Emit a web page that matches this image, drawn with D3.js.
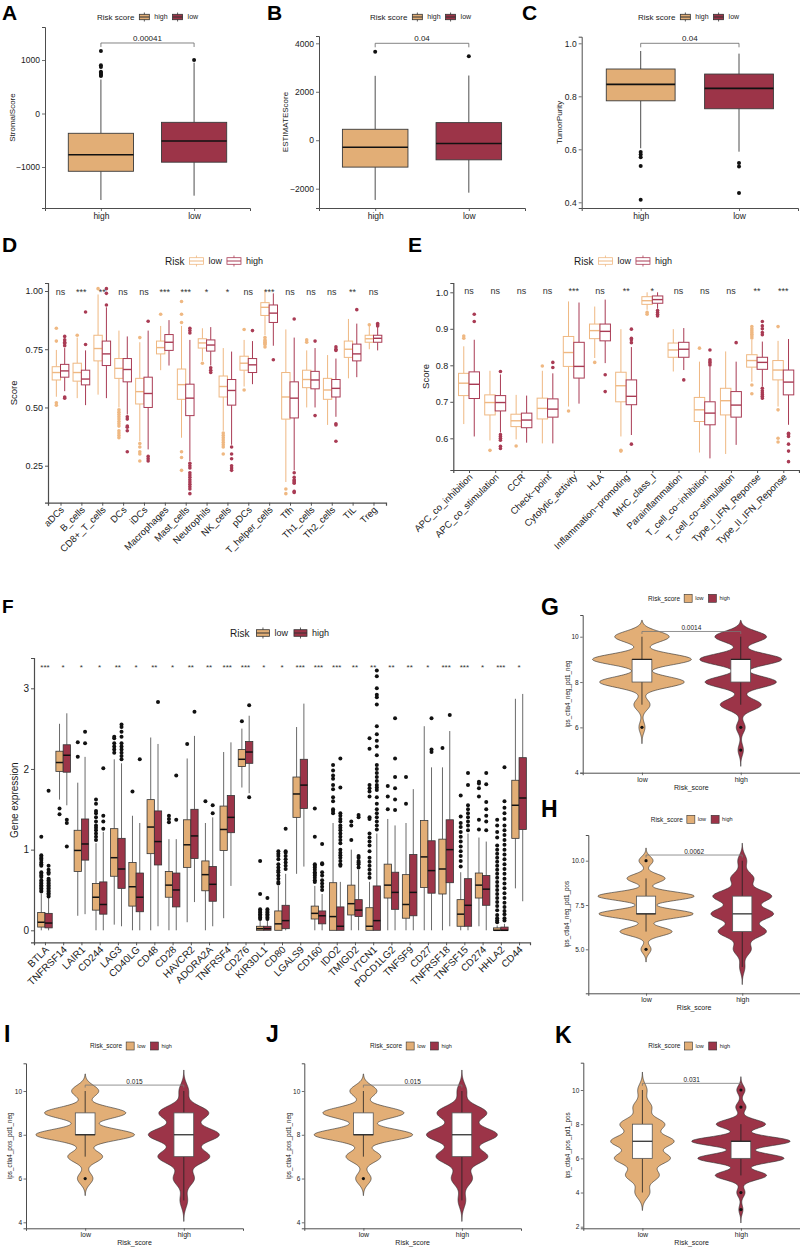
<!DOCTYPE html>
<html><head><meta charset="utf-8">
<script src="https://cdn.jsdelivr.net/npm/d3@7"></script>
<style>body{margin:0;background:#fff}svg{display:block}</style>
</head><body>
<script>
// ================= DATA =================
// Panels A-C
const abcGroups = ["high","low"];
const stromalStats = [[-1617,-1080,-770,-370,635],[-1536,-910,-515,-165,950]]; // [lo,q1,med,q3,hi]
const stromalOut = [[1170,900,870,780,760,740,720,700],[1000]];
const estimateStats = [[-2464,-1109,-287,452,2657],[-2164,-809,-136,727,2670]];
const estimateOut = [[3655],[3463]];
const purityStats = [[0.604,0.783,0.845,0.903,0.971],[0.591,0.753,0.830,0.884,0.961]];
const purityOut = [[0.59,0.58,0.57,0.537,0.41],[0.548,0.535,0.435]];
const stromalTicks = [-1000,0,1000], estimateTicks = [-2000,0,2000,4000], purityTicks = [0.4,0.6,0.8,1.0];
const abcPvalues = ["0.00041","0.04","0.04"];
const abcBracket = [1318,4000,1.0];

// Panel D
const riskGroups = ["low","high"];
const immuneCells = ["aDCs","B_cells","CD8+_T_cells","DCs","iDCs","Macrophages","Mast_cells","Neutrophils","NK_cells","pDCs","T_helper_cells","Tfh","Th1_cells","Th2_cells","TIL","Treg"];
const immuneLowStats = [[0.546,0.618,0.650,0.675,0.747],[0.54,0.613,0.65,0.69,0.80],[0.555,0.70,0.753,0.81,0.985],[0.50,0.625,0.668,0.71,0.83],[0.355,0.515,0.568,0.625,0.78],[0.66,0.73,0.757,0.785,0.85],[0.37,0.535,0.598,0.665,0.85],[0.70,0.755,0.777,0.795,0.84],[0.40,0.545,0.59,0.635,0.755],[0.59,0.66,0.69,0.72,0.79],[0.81,0.895,0.93,0.95,1.0],[0.18,0.45,0.545,0.65,0.835],[0.50,0.585,0.62,0.66,0.745],[0.425,0.535,0.575,0.625,0.725],[0.625,0.715,0.75,0.785,0.88],[0.75,0.78,0.795,0.81,0.85]];
const immuneHighStats = [[0.57,0.63,0.657,0.685,0.755],[0.51,0.597,0.622,0.66,0.745],[0.54,0.68,0.73,0.785,0.93],[0.47,0.61,0.663,0.71,0.805],[0.32,0.50,0.56,0.63,0.83],[0.68,0.745,0.78,0.813,0.875],[0.27,0.465,0.54,0.60,0.79],[0.68,0.742,0.768,0.79,0.845],[0.34,0.51,0.573,0.62,0.74],[0.60,0.65,0.683,0.71,0.785],[0.765,0.865,0.905,0.94,0.99],[0.23,0.455,0.54,0.61,0.80],[0.50,0.58,0.618,0.655,0.755],[0.46,0.545,0.582,0.62,0.71],[0.63,0.70,0.73,0.772,0.86],[0.745,0.78,0.797,0.81,0.845]];
const immuneLowOut = [[0.84,0.785,0.52,0.51],[0.81],[1.01],[0.49,0.48,0.47,0.46,0.45,0.44,0.43,0.42,0.40,0.39,0.38,0.37],[0.80,0.345,0.33,0.31,0.30,0.27],[0.90],[0.955,0.90,0.865,0.31,0.285,0.23],[0.69],[0.39,0.38,0.37,0.36,0.35,0.34,0.33,0.30],[0.835,0.575],[0.80,0.79,0.785,0.78,0.775,0.77,0.76],[0.15,0.13],[0.79,0.78],[],[],[0.855]];
const immuneHighOut = [[0.805,0.79,0.78,0.775,0.765,0.545,0.54],[0.91,0.77],[0.94,0.99,1.01],[0.46,0.45,0.42,0.415,0.40,0.31],[0.87,0.29,0.28,0.27],[],[0.84,0.83,0.82,0.26,0.25,0.24,0.22,0.21,0.20,0.19,0.18,0.17,0.16,0.15,0.13],[0.67,0.66,0.65],[0.33,0.30,0.28,0.25,0.24,0.23],[0.83],[0.705],[0.88,0.22,0.20,0.19,0.185,0.18,0.175,0.14,0.135],[0.785,0.465],[0.76,0.75,0.745,0.43,0.425,0.355],[0.92],[0.86,0.855,0.85]];
const immuneSig = ["ns","***","**","ns","ns","***","***","*","*","ns","***","ns","ns","ns","**","ns"];
const immuneTicks = [0.25,0.5,0.75,1.0];

// Panel E
const immuneFunctions = ["APC_co_inhibition","APC_co_stimulation","CCR","Check\u2212point","Cytolytic_activity","HLA","Inflammation\u2212promoting","MHC_class_I","Parainflammation","T_cell_co\u2212inhibition","T_cell_co\u2212stimulation","Type_I_IFN_Reponse","Type_II_IFN_Reponse"];
const funcLowStats = [[0.639,0.717,0.751,0.778,0.852],[0.594,0.664,0.698,0.719,0.785],[0.597,0.632,0.648,0.666,0.719],[0.586,0.653,0.682,0.71,0.785],[0.687,0.797,0.835,0.879,0.975],[0.82,0.873,0.895,0.913,0.961],[0.605,0.70,0.744,0.781,0.899],[0.952,0.967,0.977,0.988,1.0],[0.783,0.822,0.842,0.861,0.899],[0.561,0.646,0.678,0.712,0.81],[0.557,0.664,0.703,0.737,0.838],[0.755,0.795,0.813,0.829,0.87],[0.687,0.76,0.787,0.813,0.867]];
const funcHighStats = [[0.605,0.709,0.748,0.782,0.87],[0.616,0.675,0.698,0.717,0.775],[0.588,0.629,0.65,0.669,0.717],[0.586,0.658,0.68,0.708,0.778],[0.695,0.765,0.797,0.863,0.972],[0.806,0.867,0.893,0.913,0.98],[0.609,0.692,0.715,0.76,0.85],[0.955,0.97,0.98,0.99,1.0],[0.787,0.822,0.844,0.863,0.902],[0.545,0.637,0.669,0.70,0.797],[0.582,0.658,0.691,0.728,0.81],[0.742,0.789,0.808,0.822,0.865],[0.637,0.719,0.754,0.787,0.872]];
const funcLowOut = [[0.88,0.874],[0.567],[0.579],[0.798],[0.675],[0.808],[0.567,0.565],[0.945,0.94],[],[0.847],[],[0.906,0.90,0.895,0.89,0.885,0.88,0.875,0.746,0.722],[0.906,0.678,0.60,0.59]];
const funcHighOut = [[0.94,0.92],[0.783,0.61,0.605,0.60,0.595,0.578,0.572],[],[0.808,0.794],[],[0.774,0.728],[0.899,0.874,0.87,0.862,0.584],[0.95,0.945,0.94,0.935],[0.76],[0.842,0.815,0.81,0.806,0.801],[0.862],[0.92,0.908,0.9,0.89,0.884,0.737,0.73,0.725,0.72,0.715,0.71],[0.614,0.61,0.605,0.584,0.565,0.536]];
const funcSig = ["ns","ns","ns","ns","***","ns","**","*","ns","ns","ns","**","***"];
const funcTicks = [0.6,0.7,0.8,0.9,1.0];

// Panel F
const checkpointGenes = ["BTLA","TNFRSF14","LAIR1","CD244","LAG3","CD40LG","CD48","CD28","HAVCR2","ADORA2A","TNFRSF4","CD276","KIR3DL1","CD80","LGALS9","CD160","IDO2","TMIGD2","VTCN1","PDCD1LG2","TNFSF9","CD27","TNFRSF18","TNFSF15","CD274","HHLA2","CD44"];
const geneLowStats = [[0,0.04,0.10,0.22,0.45],[1.62,1.97,2.08,2.22,2.56],[0.18,0.73,0.99,1.24,1.83],[0,0.25,0.41,0.58,1.08],[0.07,0.67,0.90,1.26,2.12],[0,0.30,0.54,0.84,1.42],[0,0.95,1.28,1.62,2.39],[0,0.41,0.56,0.73,1.13],[0.10,0.78,1.06,1.37,2.13],[0,0.49,0.69,0.86,1.33],[0.15,0.99,1.25,1.54,2.21],[1.77,2.03,2.12,2.24,2.50],[0,0,0.02,0.05,0.12],[0,0,0.08,0.24,0.55],[0.70,1.40,1.69,1.90,2.52],[0,0.14,0.21,0.30,0.55],[0,0,0.17,0.59,1.33],[0,0.19,0.33,0.56,1.0],[0,0,0.05,0.28,0.6],[0,0.40,0.56,0.82,1.38],[0,0.15,0.32,0.69,1.33],[0,0.53,0.91,1.36,2.53],[0,0.45,0.76,1.13,2.02],[0,0.05,0.20,0.38,0.72],[0.05,0.40,0.56,0.71,1.15],[0,0,0,0.03,0.06],[0.52,1.14,1.55,1.86,2.87]];
const geneHighStats = [[0,0.03,0.09,0.21,0.40],[1.55,1.96,2.17,2.30,2.69],[0.20,0.87,1.07,1.38,2.15],[0,0.20,0.32,0.60,1.22],[0.05,0.52,0.76,1.14,2.07],[0,0.23,0.41,0.71,1.33],[0.05,0.81,1.10,1.48,2.31],[0,0.29,0.50,0.71,1.13],[0.35,0.89,1.17,1.50,2.41],[0.05,0.36,0.57,0.79,1.40],[0.55,1.21,1.40,1.67,2.33],[1.70,2.07,2.21,2.34,2.66],[0,0,0.02,0.05,0.12],[0,0.02,0.12,0.31,0.70],[0.79,1.51,1.80,2.12,2.81],[0,0.08,0.18,0.24,0.45],[0,0,0.05,0.29,0.60],[0,0.17,0.25,0.38,0.75],[0,0,0.12,0.55,1.2],[0,0.26,0.47,0.72,1.30],[0,0.18,0.47,0.94,1.75],[0,0.46,0.74,1.11,2.02],[0.05,0.59,1.0,1.37,2.47],[0,0.05,0.31,0.64,1.2],[0,0.31,0.51,0.68,1.1],[0,0,0,0.04,0.08],[0.36,1.25,1.64,2.14,2.93]];
const geneLowOut = [[1.16,0.93,0.91,0.89,0.87,0.84,0.82,0.80,0.72,0.70,0.68,0.66,0.62,0.60,0.58,0.56,0.54,0.52,0.50,0.48],[1.51,1.44],[2.33,2.15],[1.62,1.57,1.48,1.45,1.40,1.35,1.30,1.27,1.24,1.20,1.16,1.12],[2.40,2.38,2.32,2.28,2.24,2.20],[1.72],[],[1.42,1.38,1.34],[2.31],[1.60],[],[2.59],[0.86,0.45,0.26,0.24,0.22,0.20,0.18,0.16,0.14],[0.98,0.95,0.92,0.88,0.82,0.78,0.74,0.72,0.68,0.64,0.60,0.58],[],[1.51,1.16,0.82,0.80,0.78,0.75,0.72,0.70,0.68,0.65,0.62,0.60],[2.05,1.98,1.92,1.88,1.80,1.75,1.65,1.60,1.50,1.48,1.45],[1.35,1.30,1.12],[2.38,2.25,1.80,1.76,1.72,1.66,1.40,1.38,1.20,1.15,1.10,1.05,0.98,0.90,0.85,0.80,0.75,0.70,0.65],[1.79,1.66,1.50],[1.90,1.57],[],[2.26],[1.67,1.41,1.33,1.28,1.22,1.16,1.10,1.04,0.98,0.92,0.86,0.79],[1.84,1.82,1.76,1.66,1.37,1.25],[1.37,1.30,1.22,1.15,1.05,1.0,0.95,0.90,0.85,0.80,0.75,0.70,0.65,0.60,0.55,0.50,0.45,0.40,0.35,0.30,0.25,0.19,0.15,0.12,0.10],[]];
const geneHighOut = [[1.73,0.80,0.75,0.72,0.70,0.64,0.62,0.60,0.58,0.56,0.54,0.52,0.50,0.48,0.46,0.44,0.42],[1.37,1.33,1.04],[2.46,2.32],[2.01,1.42,1.35,1.26],[2.55,2.52,2.46,2.40,2.32,2.28,2.24,2.20,2.16,2.12],[2.12],[2.83],[1.92,1.37],[2.71],[1.55,1.45],[],[2.79,1.65],[0.40,0.26,0.24,0.22,0.20,0.18,0.16,0.14],[1.26,0.98,0.96,0.92,0.88,0.84,0.80,0.76],[],[1.07,0.83,0.82,0.72,0.68,0.62,0.58,0.54,0.50],[2.13,1.77,1.45,1.42,1.38,1.35,1.30,1.27,1.24,1.20,1.16,1.12,1.08,1.0,0.96,0.93,0.90,0.86,0.82,0.80],[1.43,1.40,0.92,0.90,0.86,0.84,0.82,0.78],[3.22,3.15,3.0,2.92,2.89,2.80,2.53,2.43,2.35,2.28,2.17,2.05,2.0,1.95,1.90,1.85,1.80,1.77,1.74,1.65,1.57,1.50,1.45,1.40,1.35,1.30,1.25],[2.63,2.13,1.90,1.76,1.62,1.49],[],[2.63,2.24,2.21],[2.67],[1.95,1.80,1.55,1.50,1.45,1.40,1.35,1.30,1.24],[1.95,1.81,1.59,1.50,1.42,1.35,1.24],[2.02,1.60,1.52,1.45,1.38,1.30,1.24,1.18,1.12,1.06,1.0,0.94,0.88,0.82,0.76,0.70,0.64,0.58,0.52,0.46,0.40,0.34,0.29,0.24,0.20,0.15,0.12],[]];
const geneSig = ["***","*","*","*","**","*","**","*","**","**","***","***","*","*","***","***","***","**","**","**","**","*","***","***","*","***","*"];
const geneTicks = [0,1,2,3];

// Panels G-K (IPS scores): counts per integer score
const ipsGroups = ["low","high"];
const ipsScores = [3,4,5,6,7,8,9,10];
const gLowCounts  = [0,0,0,3,8,42,49,27],  gHighCounts = [0,0,3,5,23,40,46,29];
const hLowCounts  = [0,0,5,26,47,48,19,7], hHighCounts = [0,3,10,27,35,33,13,5];
const iLowCounts  = [0,0,0,8,18,51,42,14], iHighCounts = [0,0,4,11,27,37,26,5];
const jLowCounts  = [0,0,0,8,18,51,42,14], jHighCounts = [0,0,4,11,27,37,26,5];
const kLowCounts  = [0,8,18,30,34,24,10,5], kHighCounts = [2,4,25,42,48,24,5,4];
const gBoxStats = [[7,8,9,9,10],[7,8,9,9,10]], gOut = [[6],[6,5]];
const hBoxStats = [[6,7,7,8,9],[4,6,7,8,10]], hOut = [[5,10],[]];
const iBoxStats = [[7,8,8,9,10],[5,7,8,9,10]], iOut = [[6],[]];
const jBoxStats = [[7,8,8,9,10],[5,7,8,9,10]], jOut = [[6],[]];
const kBoxStats = [[4,6,7,8,10],[5,6,7,7,8]], kOut = [[],[3,4,9,10]];
const ipsPvalues = {G:"0.0014",H:"0.0062",I:"0.015",J:"0.015",K:"0.031"};

// ================= STYLE =================
const FONT = '"Liberation Sans", Arial, Helvetica, sans-serif';
const OR = "#E2AE76", RD = "#9C3448";
const D_OR = "#EFB882", D_RD = "#A93B54";
const AX = "#4d4d4d", TX = "#1a1a1a";

const svg = d3.select("body").append("svg").attr("width",800).attr("height",1248).style("font-family",FONT);
svg.append("rect").attr("width",800).attr("height",1248).attr("fill","#fff");

// ================= HELPERS =================
function xScale(cats,x0,x1){ return d3.scalePoint().domain(cats).range([x0,x1]).padding(0.6); }
function yScale(v1,p1,v2,p2,top,bot){
  const s = d3.scaleLinear().domain([v1,v2]).range([p1,p2]);
  return d3.scaleLinear().domain([s.invert(bot), s.invert(top)]).range([bot, top]);
}
function axes(g,x,y,ticks,fmt,o){
  const ya = g.append("g").attr("transform",`translate(${x.range()[0]},0)`)
    .call(d3.axisLeft(y).tickValues(ticks).tickFormat(fmt).tickSizeOuter(0).tickSize(o.ts).tickPadding(o.tp));
  const xa = g.append("g").attr("transform",`translate(0,${y.range()[0]})`)
    .call(d3.axisBottom(x).tickSizeOuter(0).tickSize(o.ts).tickPadding(o.tp));
  [ya,xa].forEach(a=>{
    a.select(".domain").attr("stroke",AX).attr("stroke-width",o.lw);
    a.selectAll(".tick line").attr("stroke",AX).attr("stroke-width",o.lw*0.8);
    a.selectAll(".tick text").attr("fill",TX).style("font-size",o.fs+"px").style("font-family",FONT);
  });
  if(o.rot){
    xa.selectAll(".tick text").attr("x",0).attr("y",0).attr("dy","0.7em")
      .attr("transform",`translate(${o.rot[0]},${o.rot[1]}) rotate(-45)`).style("text-anchor","end")
      .style("font-size",o.xfs+"px");
  } else if(o.xfs){ xa.selectAll(".tick text").style("font-size",o.xfs+"px"); }
  return {ya,xa};
}
function yTitle(g,txt,x,yc,fs){
  g.append("text").attr("transform",`translate(${x},${yc}) rotate(-90)`).attr("text-anchor","middle")
   .attr("dy","0.35em").style("font-size",fs+"px").attr("fill",TX).text(txt);
}
function panelLabel(txt,x,y,fs){
  svg.append("text").attr("x",x).attr("y",y).style("font-size",fs+"px").style("font-weight","bold").attr("fill","#000").text(txt);
}
function drawBox(g,cx,w,st,y,s){
  g.append("line").attr("x1",cx).attr("x2",cx).attr("y1",y(st[0])).attr("y2",y(st[1])).attr("stroke",s.whisk).attr("stroke-width",s.sw);
  g.append("line").attr("x1",cx).attr("x2",cx).attr("y1",y(st[3])).attr("y2",y(st[4])).attr("stroke",s.whisk).attr("stroke-width",s.sw);
  g.append("rect").attr("x",cx-w/2).attr("y",y(st[3])).attr("width",w).attr("height",Math.max(0.6,y(st[1])-y(st[3])))
   .attr("fill",s.fill).attr("stroke",s.stroke).attr("stroke-width",s.sw);
  g.append("line").attr("x1",cx-w/2).attr("x2",cx+w/2).attr("y1",y(st[2])).attr("y2",y(st[2])).attr("stroke",s.med).attr("stroke-width",s.medW);
}
function drawDots(g,cx,vals,y,r,color){
  g.selectAll(null).data(vals).enter().append("circle").attr("cx",cx).attr("cy",d=>y(d)).attr("r",r).attr("fill",color);
}
function legend(g,x,yc,title,items,o){
  let cx = x;
  const t = g.append("text").attr("x",cx).attr("y",yc).attr("dy","0.35em").style("font-size",o.tfs+"px").attr("fill",TX).text(title);
  cx += t.node().getComputedTextLength() + o.g1;
  items.forEach(it=>{
    const kx = cx, kw=o.kw, kh=o.kh;
    if(o.type==="square"){
      g.append("rect").attr("x",kx).attr("y",yc-kh/2).attr("width",kw).attr("height",kh).attr("fill",it.color).attr("stroke","#333").attr("stroke-width",0.6);
    } else {
      const fill = o.type==="hollow" ? "#fff" : it.color;
      const st = o.type==="hollow" ? it.color : "#333";
      g.append("line").attr("x1",kx+kw/2).attr("x2",kx+kw/2).attr("y1",yc-kh/2).attr("y2",yc+kh/2).attr("stroke",st).attr("stroke-width",0.8);
      g.append("rect").attr("x",kx).attr("y",yc-kh*0.3).attr("width",kw).attr("height",kh*0.6).attr("fill",fill).attr("stroke",st).attr("stroke-width",0.8);
      g.append("line").attr("x1",kx).attr("x2",kx+kw).attr("y1",yc).attr("y2",yc).attr("stroke",st).attr("stroke-width",1);
    }
    cx += kw + o.g2;
    const l = g.append("text").attr("x",cx).attr("y",yc).attr("dy","0.35em").style("font-size",o.fs+"px").attr("fill",TX).text(it.label);
    cx += l.node().getComputedTextLength() + o.g3;
  });
}

// ================= PANELS A-C =================
const abcPanels = [
  {lab:"A",lx:2,stats:stromalStats,out:stromalOut,ticks:stromalTicks,fmt:d3.format("d"),title:"StromalScore",tx:12,
   x0:45,x1:250,top:27,bot:208,map:[1000,60,-1000,167],leg:97},
  {lab:"B",lx:267,stats:estimateStats,out:estimateOut,ticks:estimateTicks,fmt:d3.format("d"),title:"ESTIMATEScore",tx:285.5,
   x0:319,x1:525,top:36,bot:208,map:[4000,43.3,-2000,188.7],leg:370},
  {lab:"C",lx:522,stats:purityStats,out:purityOut,ticks:purityTicks,fmt:d3.format(".1f"),title:"TumorPurity",tx:559.5,
   x0:581.7,x1:798,top:36.7,bot:208,map:[1.0,43.3,0.4,202.3],leg:638}
];
abcPanels.forEach((p,pi)=>{
  const g = svg.append("g");
  const x = xScale(abcGroups,p.x0,p.x1);
  const y = yScale(...p.map,p.top,p.bot);
  axes(g,x,y,p.ticks,(d)=>p.fmt(d).replace("-","\u2212"),{ts:3,tp:2,fs:8.5,lw:1,xfs:8.5});
  yTitle(g,p.title,p.tx,(p.top+p.bot)/2,8);
  const w = 0.7*x.step();
  abcGroups.forEach((c,i)=>{
    drawBox(g,x(c),w,p.stats[i],y,{fill:i===0?OR:RD,stroke:"#3a3a3a",whisk:"#3a3a3a",med:"#111",medW:1.6,sw:0.9});
    drawDots(g,x(c),p.out[i],y,2,"#111");
  });
  const by = y(abcBracket[pi]);
  g.append("path").attr("d",`M${x("high")},${by+4}V${by}H${x("low")}V${by+4}`).attr("fill","none").attr("stroke","#666").attr("stroke-width",0.8);
  g.append("text").attr("x",(x("high")+x("low"))/2).attr("y",by-2).attr("text-anchor","middle").style("font-size","8px").attr("fill",TX).text(abcPvalues[pi]);
  legend(g,p.leg,17,"Risk score",[{label:"high",color:OR},{label:"low",color:RD}],{tfs:8,fs:7,kw:10,kh:9,type:"box",g1:5,g2:5,g3:5});
  panelLabel(p.lab,p.lx,20,21);
});

// ================= PANEL D & E =================
function dodgedPanel(cfg){
  const g = svg.append("g");
  const x = xScale(cfg.cats,cfg.x0,cfg.x1);
  const y = yScale(...cfg.map,cfg.top,cfg.bot);
  axes(g,x,y,cfg.ticks,cfg.fmt,{ts:3,tp:2,fs:cfg.fs,lw:1.2,xfs:cfg.xfs,rot:cfg.rot});
  yTitle(g,cfg.title,cfg.tx,(cfg.top+cfg.bot)/2,cfg.tfs);
  const u = x.step(), w = 0.4*u;
  cfg.cats.forEach((c,i)=>{
    [[cfg.low,cfg.lowOut,cfg.cOr,-1],[cfg.high,cfg.highOut,cfg.cRd,1]].forEach(([st,out,col,sgn])=>{
      const cx = x(c)+sgn*0.2*u;
      if(cfg.filled){
        drawBox(g,cx,w,st[i],y,{fill:col,stroke:"#333",whisk:"#444",med:"#111",medW:1.5,sw:0.8});
        drawDots(g,cx,out[i],y,cfg.r,"#111");
      } else {
        drawBox(g,cx,w,st[i],y,{fill:"#fff",stroke:col,whisk:col,med:col,medW:1.4,sw:1});
        drawDots(g,cx,out[i],y,cfg.r,col);
      }
    });
    g.append("text").attr("x",x(c)).attr("y",cfg.sigY).attr("text-anchor","middle").style("font-size",cfg.sigFs+"px").attr("fill","#333").text(cfg.sig[i]);
  });
  return g;
}
const dG = dodgedPanel({cats:immuneCells,low:immuneLowStats,high:immuneHighStats,lowOut:immuneLowOut,highOut:immuneHighOut,sig:immuneSig,
  x0:48,x1:386,top:283,bot:502.7,map:[1.0,291,0.25,465.7],ticks:immuneTicks,fmt:d3.format(".2f"),fs:9,xfs:9.5,rot:[-1,3],
  title:"Score",tx:13.5,tfs:9.5,cOr:D_OR,cRd:D_RD,filled:false,r:1.8,sigY:294.5,sigFs:9});
legend(dG,165,261,"Risk",[{label:"low",color:D_OR},{label:"high",color:D_RD}],{tfs:10,fs:9,kw:14,kh:11,type:"hollow",g1:5,g2:5,g3:5});
panelLabel("D",2,252,21);

const eG = dodgedPanel({cats:immuneFunctions,low:funcLowStats,high:funcHighStats,lowOut:funcLowOut,highOut:funcHighOut,sig:funcSig,
  x0:453.3,x1:799,top:283,bot:470,map:[1.0,292.3,0.6,438.3],ticks:funcTicks,fmt:d3.format(".1f"),fs:9,xfs:9.5,rot:[-1,3],
  title:"Score",tx:425.5,tfs:9.5,cOr:D_OR,cRd:D_RD,filled:false,r:1.8,sigY:293.5,sigFs:9});
legend(eG,574,261,"Risk",[{label:"low",color:D_OR},{label:"high",color:D_RD}],{tfs:10,fs:9,kw:14,kh:11,type:"hollow",g1:5,g2:5,g3:5});
panelLabel("E",408,252,21);

// ================= PANEL F =================
const fG = dodgedPanel({cats:checkpointGenes,low:geneLowStats,high:geneHighStats,lowOut:geneLowOut,highOut:geneHighOut,sig:geneSig,
  x0:34,x1:530,top:658,bot:942.3,map:[0,930.3,3,688.3],ticks:geneTicks,fmt:d3.format("d"),fs:10,xfs:10,rot:[-1,3],
  title:"Gene expression",tx:14,tfs:10,cOr:OR,cRd:RD,filled:true,r:2,sigY:669.5,sigFs:8});
legend(fG,230,633,"Risk",[{label:"low",color:OR},{label:"high",color:RD}],{tfs:10,fs:9,kw:13,kh:11,type:"box",g1:7,g2:5,g3:6});
panelLabel("F",2,613,19);

// ================= PANELS G-K (violins) =================
function violinPanel(p){
  const g = svg.append("g");
  const x = xScale(ipsGroups,p.x0,p.x1);
  const y = yScale(...p.map,p.top,p.bot);
  axes(g,x,y,p.ticks,p.fmt,{ts:2.5,tp:1.5,fs:6.5,lw:1,xfs:7});
  yTitle(g,p.title,p.tx,(p.top+p.bot)/2,6.3);
  g.append("text").attr("x",(p.x0+p.x1)/2).attr("y",p.bot+17).attr("text-anchor","middle").style("font-size","7px").attr("fill",TX).text("Risk_score");
  const u = x.step();
  const dens = p.counts.map((cnt,i)=>{
    const bw = p.bw[i];
    const present = ipsScores.filter((v,j)=>cnt[j]>0);
    const lo = d3.min(present)-3*bw, hi = d3.max(present)+3*bw;
    const n = d3.sum(cnt);
    return d3.range(0,241).map(k=>{
      const t = lo+(hi-lo)*k/240;
      return [t, d3.sum(ipsScores,(v,j)=>cnt[j]*Math.exp(-0.5*((t-v)/bw)**2))/(n*bw*Math.sqrt(2*Math.PI))];
    });
  });
  const maxD = d3.max(dens,d=>d3.max(d,e=>e[1]));
  const wS = d3.scaleLinear().domain([0,maxD]).range([0,0.5*u]);
  ipsGroups.forEach((c,i)=>{
    const cx = x(c);
    const area = d3.area().y(d=>y(d[0])).x0(d=>cx-wS(d[1])).x1(d=>cx+wS(d[1]));
    g.append("path").attr("d",area(dens[i])).attr("fill",i===0?OR:RD).attr("stroke","#2a2a2a").attr("stroke-width",0.6);
  });
  ipsGroups.forEach((c,i)=>{
    drawBox(g,x(c),0.2*u,p.box[i],y,{fill:"#fff",stroke:"#555",whisk:"#222",med:"#222",medW:1.2,sw:0.8});
    drawDots(g,x(c),p.out[i],y,1.6,"#111");
  });
  const by = y(p.bv);
  g.append("path").attr("d",`M${x("low")},${by+2.5}V${by}H${x("high")}V${by+2.5}`).attr("fill","none").attr("stroke","#777").attr("stroke-width",0.8);
  g.append("text").attr("x",(x("low")+x("high"))/2).attr("y",by-1.5).attr("text-anchor","middle").style("font-size","6.5px").attr("fill",TX).text(p.pv);
  legend(g,p.legx,p.legy,"Risk_score",[{label:"low",color:OR},{label:"high",color:RD}],{tfs:6.5,fs:5.5,kw:8,kh:8,type:"square",g1:4,g2:3,g3:5});
  panelLabel(p.lab,p.lx,p.ly,23);
}
violinPanel({lab:"G",lx:541,ly:615,counts:[gLowCounts,gHighCounts],bw:[0.24,0.24],box:gBoxStats,out:gOut,pv:ipsPvalues.G,bv:10.23,
  x0:582.7,x1:800,top:615,bot:772.7,map:[10,636.7,4,772.7],ticks:[4,6,8,10],fmt:d3.format("d"),
  title:"ips_ctla4_neg_pd1_neg",tx:568,legx:648,legy:598.3});
violinPanel({lab:"H",lx:541,ly:817,counts:[hLowCounts,hHighCounts],bw:[0.24,0.33],box:hBoxStats,out:hOut,pv:ipsPvalues.H,bv:10.32,
  x0:588.3,x1:800,top:835,bot:993.3,map:[10,860.7,5,949.3],ticks:[5,7.5,10],fmt:d3.format(".1f"),
  title:"ips_ctla4_neg_pd1_pos",tx:567,legx:650.7,legy:819.3});
violinPanel({lab:"I",lx:4,ly:1042,counts:[iLowCounts,iHighCounts],bw:[0.26,0.32],box:iBoxStats,out:iOut,pv:ipsPvalues.I,bv:10.27,
  x0:26,x1:243,top:1063.3,bot:1228.3,map:[10,1091,4,1222.3],ticks:[4,6,8,10],fmt:d3.format("d"),
  title:"ips_ctla4_pos_pd1_neg",tx:10,legx:90,legy:1046});
violinPanel({lab:"J",lx:266,ly:1042,counts:[jLowCounts,jHighCounts],bw:[0.26,0.32],box:jBoxStats,out:jOut,pv:ipsPvalues.J,bv:10.27,
  x0:304.3,x1:521,top:1063.3,bot:1228.3,map:[10,1091,4,1222.3],ticks:[4,6,8,10],fmt:d3.format("d"),
  title:"ips_ctla4_pos_pd1_neg",tx:288.5,legx:370,legy:1046});
violinPanel({lab:"K",lx:555,ly:1043,counts:[kLowCounts,kHighCounts],bw:[0.35,0.26],box:kBoxStats,out:kOut,pv:ipsPvalues.K,bv:10.39,
  x0:583.3,x1:800,top:1062.7,bot:1228.3,map:[10,1090,2,1226.7],ticks:[2,4,6,8,10],fmt:d3.format("d"),
  title:"ips_ctla4_pos_pd1_pos",tx:567.5,legx:648.3,legy:1046});
</script>
</body></html>
